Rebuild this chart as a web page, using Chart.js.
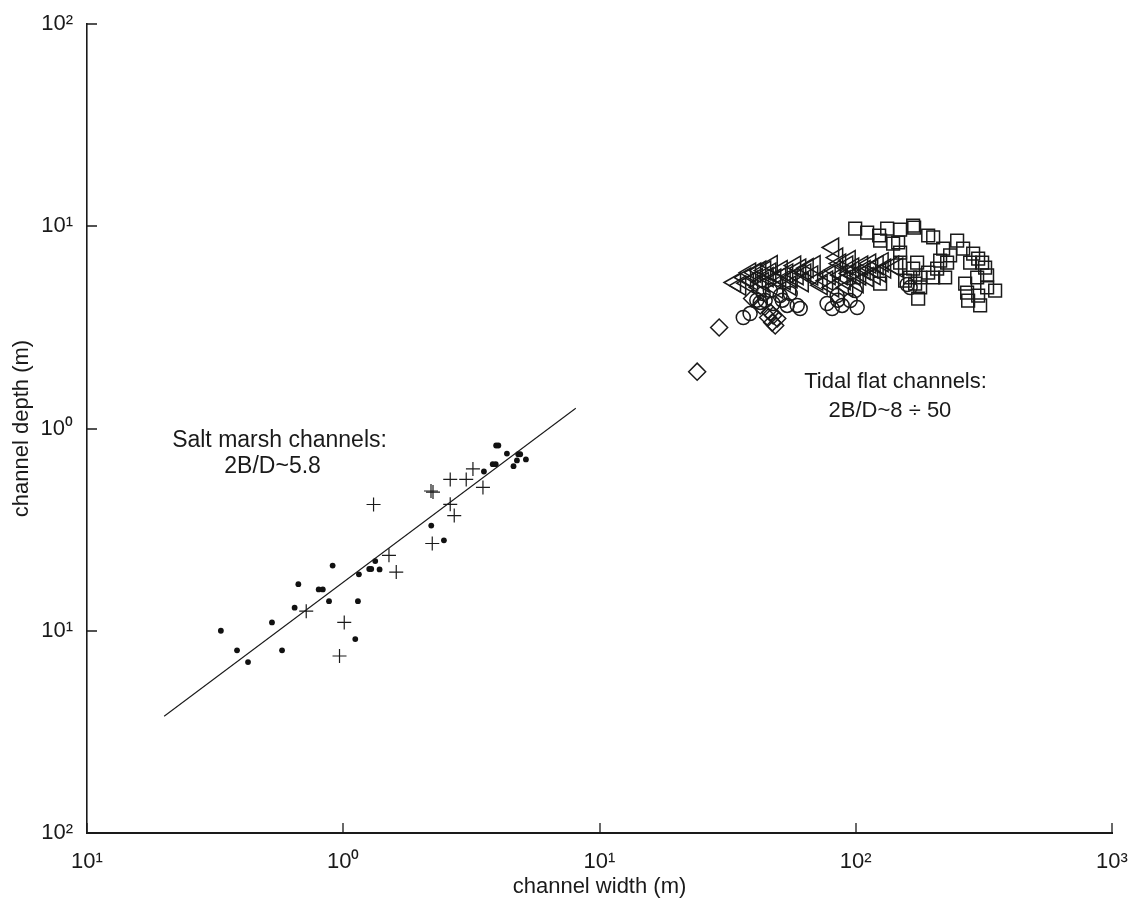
<!DOCTYPE html>
<html><head><meta charset="utf-8">
<script src="https://cdn.jsdelivr.net/npm/chart.js@4"></script>
<style>html,body{margin:0;padding:0;background:#fff}canvas{display:block}</style>
</head><body>
<canvas id="c" width="1135" height="901"></canvas>
<script>
// ---- axes ----
const xTickValues = [0.1, 1, 10, 100, 1000];
const xTickLabels = ['10¹', '10⁰', '10¹', '10²', '10³'];
const yTickValues = [0.01, 0.1, 1, 10, 100];
const yTickLabels = ['10²', '10¹', '10⁰', '10¹', '10²'];
const xTitle = 'channel width (m)';
const yTitle = 'channel depth (m)';

// ---- salt marsh: dots ----
const dotX = [0.333, 0.385, 0.425, 0.527, 0.577, 0.646, 0.668, 0.802, 0.832, 0.880, 0.909, 1.114, 1.141, 1.151, 1.263, 1.286, 1.333, 1.386, 2.205, 2.471, 3.540, 3.831, 3.936, 3.95, 4.03, 4.352, 4.618, 4.762, 4.818, 4.905, 5.162];
const dotY = [0.100, 0.080, 0.070, 0.110, 0.080, 0.130, 0.170, 0.160, 0.160, 0.140, 0.210, 0.091, 0.140, 0.190, 0.202, 0.202, 0.221, 0.201, 0.331, 0.280, 0.613, 0.666, 0.666, 0.824, 0.824, 0.752, 0.651, 0.695, 0.746, 0.746, 0.703];

// ---- salt marsh: crosses ----
const crossX = [0.717, 1.009, 0.967, 1.313, 1.508, 1.610, 2.20, 2.24, 2.225, 2.615, 2.615, 2.711, 3.019, 3.207, 3.509];
const crossY = [0.125, 0.110, 0.075, 0.421, 0.236, 0.195, 0.491, 0.485, 0.270, 0.560, 0.422, 0.371, 0.560, 0.631, 0.511];

// ---- salt marsh fit line ----
const fitX = [0.2, 8.08];
const fitY = [0.0378, 1.26];

// ---- tidal flat: squares ----
const squareX = [99.5, 110.8, 123.4, 132.6, 149, 167.5, 169, 124.5, 139.9, 146.4, 149, 173.6, 167.5, 191.7, 200.5, 219.3, 248.7, 262.5, 287.2, 300.4, 311.4, 319.8, 279.5, 233.5, 227.3, 213.5, 207.8, 200.5, 191.7, 223.3, 178.4, 170.5, 178.4, 175.2, 124.5, 267.3, 297.7, 325.6, 325.6, 349.9, 272, 274.5, 300.4, 305.8, 149, 163, 155.8];
const squareY = [9.74, 9.31, 9.00, 9.74, 9.63, 10.08, 9.85, 8.50, 8.21, 8.31, 7.41, 6.61, 6.18, 9.00, 8.80, 7.76, 8.50, 7.76, 7.33, 6.92, 6.61, 6.25, 6.61, 7.17, 6.61, 6.77, 6.18, 5.58, 5.90, 5.58, 5.58, 5.21, 4.98, 4.39, 5.21, 5.21, 5.58, 5.71, 4.98, 4.81, 4.70, 4.29, 4.54, 4.06, 6.61, 5.58, 5.39];

// ---- tidal flat: triangles ----
const triX = [33.8, 35.4, 37.0, 38.7, 39.4, 40.5, 42.4, 42.4, 44.3, 46.4, 48.5, 49.4, 50.7, 54.0, 55.5, 58.0, 60.7, 63.5, 67.6, 70.7, 77.3, 81.6, 81.6, 84.6, 86.9, 92.6, 92.6, 97.7, 105.9, 113.8, 115.9, 124.5, 130.2, 139.9, 145.1, 95.1, 104.0,
  37.9, 41.1, 43.4, 45.3, 47.0, 51.4, 52.8, 56.2, 59.3, 62.1, 64.9, 69.1, 73.6, 79.1, 82.8, 88.1, 90.5, 94.7, 99.0, 101.7, 108.3, 111.3, 118.5, 121.7, 127.3];
const triY = [5.27, 5.09, 5.58, 5.90, 5.39, 5.90, 6.04, 4.98, 6.04, 5.90, 5.51, 4.92, 5.58, 5.84, 5.09, 6.39, 6.18, 5.84, 5.71, 5.39, 5.39, 7.85, 4.98, 7.00, 6.54, 6.39, 4.98, 6.25, 6.39, 6.54, 6.18, 5.90, 6.18, 6.39, 6.25, 5.84, 5.71,
  5.23, 5.54, 5.29, 5.60, 6.42, 6.07, 5.41, 5.54, 5.73, 5.29, 6.21, 6.42, 5.11, 5.73, 6.07, 5.73, 5.41, 6.80, 5.73, 5.23, 6.07, 5.60, 5.73, 6.42, 6.64];

// ---- tidal flat: circles ----
const circX = [36.4, 38.7, 42.4, 44.3, 47.6, 43.5, 50.7, 54.0, 55.5, 59.1, 60.7, 77.3, 80.9, 88.5, 95.1, 101.3, 99.5, 158.7, 163, 84.6, 46.4, 41.1, 51.7, 85.0];
const circY = [3.54, 3.70, 4.20, 4.29, 4.15, 4.65, 4.54, 4.06, 4.65, 4.06, 3.92, 4.15, 3.92, 4.06, 4.29, 3.96, 4.81, 5.15, 4.98, 4.54, 4.81, 4.31, 4.31, 4.31];

// ---- tidal flat: diamonds ----
const diamX = [24.05, 29.3, 39.4, 45.5, 46.4, 47.2, 48.5, 49.4, 47.6, 42.4];
const diamY = [1.91, 3.16, 4.39, 3.54, 3.75, 3.34, 3.23, 3.50, 3.62, 4.06];

// ---- annotations ----
const noteText = ['Salt marsh channels:', '2B/D~5.8', 'Tidal flat channels:', '2B/D~8 ÷ 50'];
const noteSize = [23, 23, 22, 22];
const noteX = [0.564, 0.53, 143, 136];
const noteY = [0.875, 0.645, 1.69, 1.22];

const zip = (xs, ys) => xs.map((v, i) => ({x: v, y: ys[i]}));
const INK = '#1a1a1a';
const FONT = "'Liberation Sans', Arial, Helvetica, sans-serif";

const innerTicks = {
  id: 'innerTicks',
  afterDraw(chart) {
    const {ctx, chartArea: a, scales: {x, y}} = chart;
    ctx.save();
    ctx.strokeStyle = INK;
    ctx.lineWidth = 1.3;
    ctx.beginPath();
    x.ticks.forEach(t => {
      const p = Math.round(x.getPixelForValue(t.value));
      ctx.moveTo(p, a.bottom); ctx.lineTo(p, a.bottom - 10);
    });
    y.ticks.forEach(t => {
      const p = Math.round(y.getPixelForValue(t.value));
      ctx.moveTo(a.left, p); ctx.lineTo(a.left + 10, p);
    });
    ctx.stroke();
    ctx.restore();
  }
};

const notes = {
  id: 'notes',
  afterDatasetsDraw(chart) {
    const {ctx, scales: {x, y}} = chart;
    ctx.save();
    ctx.fillStyle = INK;
    ctx.textAlign = 'center';
    ctx.textBaseline = 'middle';
    noteText.forEach((t, i) => {
      ctx.font = noteSize[i] + 'px ' + FONT;
      ctx.fillText(t, x.getPixelForValue(noteX[i]), y.getPixelForValue(noteY[i]));
    });
    ctx.restore();
  }
};

const hollow = {backgroundColor: 'rgba(0,0,0,0)', borderColor: INK, borderWidth: 1.5};

new Chart(document.getElementById('c'), {
  type: 'scatter',
  data: {
    datasets: [
      {label: 'fit', type: 'line', data: zip(fitX, fitY), borderColor: INK, borderWidth: 1.1, pointRadius: 0, fill: false},
      {label: 'dots', data: zip(dotX, dotY), pointStyle: 'circle', pointRadius: 2.9, backgroundColor: '#111', borderWidth: 0},
      {label: 'crosses', data: zip(crossX, crossY), pointStyle: 'cross', pointRadius: 7, borderColor: INK, borderWidth: 1.2},
      Object.assign({label: 'squares', data: zip(squareX, squareY), pointStyle: 'rect', pointRadius: 9}, hollow),
      Object.assign({label: 'triangles', data: zip(triX, triY), pointStyle: 'triangle', pointRotation: -90, pointRadius: 11}, hollow),
      Object.assign({label: 'circles', data: zip(circX, circY), pointStyle: 'circle', pointRadius: 7}, hollow),
      Object.assign({label: 'diamonds', data: zip(diamX, diamY), pointStyle: 'rectRot', pointRadius: 8.5}, hollow)
    ]
  },
  options: {
    responsive: false,
    animation: false,
    devicePixelRatio: 1,
    layout: {padding: {left: 0, top: 24, right: 23, bottom: 0}},
    plugins: {legend: {display: false}, tooltip: {enabled: false}},
    scales: {
      x: {
        type: 'logarithmic', position: 'bottom', min: 0.1, max: 1000,
        grid: {display: false, drawTicks: false},
        border: {display: true, color: INK, width: 2},
        afterBuildTicks: s => { s.ticks = xTickValues.map(v => ({value: v})); },
        afterFit: s => { s.height = 68; s.paddingLeft = 0; s.paddingRight = 0; },
        ticks: {
          color: INK, padding: 16, maxRotation: 0, autoSkip: false,
          font: {family: FONT, size: 22},
          callback: (v) => xTickLabels[xTickValues.indexOf(v)] ?? ''
        },
        title: {display: true, text: xTitle, color: INK, font: {family: FONT, size: 22}, padding: {top: 0, bottom: 1}}
      },
      y: {
        type: 'logarithmic', position: 'left', min: 0.01, max: 100,
        grid: {display: false, drawTicks: false},
        border: {display: true, color: INK, width: 1.6},
        afterBuildTicks: s => { s.ticks = yTickValues.map(v => ({value: v})); },
        afterFit: s => { s.width = 87; s.paddingTop = 0; s.paddingBottom = 0; },
        ticks: {
          color: INK, padding: 14, autoSkip: false,
          font: {family: FONT, size: 22},
          callback: (v) => yTickLabels[yTickValues.indexOf(v)] ?? ''
        },
        title: {display: true, text: yTitle, color: INK, font: {family: FONT, size: 22}, padding: {top: 9, bottom: 0}}
      }
    }
  },
  plugins: [innerTicks, notes]
});
</script>
</body></html>
